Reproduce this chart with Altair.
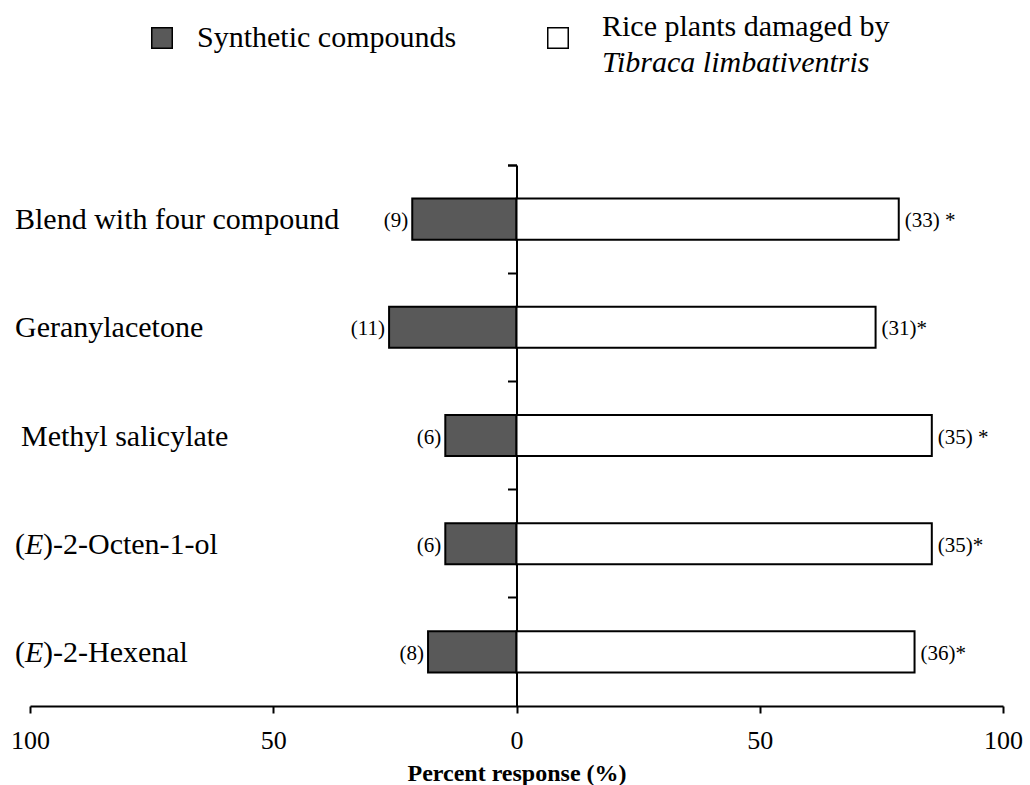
import altair as alt
import pandas as pd

# Olfactometer choices: synthetic compound vs. rice plants damaged by T. limbativentris
compounds = [
    "Blend with four compound",
    "Geranylacetone",
    "Methyl salicylate",
    "(E)-2-Octen-1-ol",
    "(E)-2-Hexenal",
]
synthetic_n = [9, 11, 6, 6, 8]
damaged_n = [33, 31, 35, 35, 36]
damaged_marks = ["(33) *", "(31)*", "(35) *", "(35)*", "(36)*"]

axis_values = [-100, -50, 0, 50, 100]
groups = ["Synthetic compounds", "Rice plants damaged by"]
colors = ["#595959", "white"]

SERIF = "Liberation Serif"

rows = []
for name, s, d, lab in zip(compounds, synthetic_n, damaged_n, damaged_marks):
    total = s + d
    rows.append({"compound": name, "group": groups[0],
                 "lo": -100.0 * s / total, "hi": 0.0, "label": f"({s})"})
    rows.append({"compound": name, "group": groups[1],
                 "lo": 0.0, "hi": 100.0 * d / total, "label": lab})
df = pd.DataFrame(rows)

# Category axis sits on the zero line, with ticks at the band boundaries
y_enc = alt.Y(
    "compound:N",
    sort=compounds,
    scale=alt.Scale(paddingInner=0, paddingOuter=0),
    axis=alt.Axis(
        title=None, labels=False, grid=False, offset=-486.5,
        ticks=True, bandPosition=0, tickExtra=True,
        tickSize=9, tickWidth=2, tickColor="black",
        domainColor="black", domainWidth=2,
    ),
)
y_plain = alt.Y("compound:N", sort=compounds)

x_scale = alt.Scale(domain=[-100, 100], nice=False)

bars = alt.Chart(df).mark_bar(
    stroke="black", strokeWidth=2, height={"band": 0.38}
).encode(
    x=alt.X(
        "lo:Q", scale=x_scale,
        axis=alt.Axis(
            values=axis_values, labelExpr="abs(datum.value)", grid=False,
            tickSize=7, tickWidth=2, tickColor="black",
            domainColor="black", domainWidth=2,
            labelFont=SERIF, labelFontSize=26, labelColor="black",
            labelPadding=14, labelFlush=False,
            title="Percent response (%)", titleFont=SERIF, titleFontSize=24,
            titleFontWeight="bold", titleColor="black", titlePadding=8,
        ),
    ),
    x2="hi:Q",
    y=y_enc,
    fill=alt.Fill("group:N", scale=alt.Scale(domain=groups, range=colors), legend=None),
)

left_counts = alt.Chart(df).transform_filter(
    alt.datum.group == groups[0]
).mark_text(font=SERIF, fontSize=21, align="right", baseline="middle", dx=-4, dy=2,
            color="black").encode(
    x=alt.X("lo:Q", scale=x_scale), y=y_plain, text="label:N"
)

right_counts = alt.Chart(df).transform_filter(
    alt.datum.group == groups[1]
).mark_text(font=SERIF, fontSize=21, align="left", baseline="middle", dx=6, dy=2,
            color="black").encode(
    x=alt.X("hi:Q", scale=x_scale), y=y_plain, text="label:N"
)

# Category names drawn as text so the (E) prefix can be italic
names = pd.DataFrame({
    "compound": compounds,
    "plain": ["Blend with four compound", "Geranylacetone", "Methyl salicylate", "", ""],
    "tail": ["", "", "", ")-2-Octen-1-ol", ")-2-Hexenal"],
})


def name_layer(expr, x_px, keep, style="normal"):
    return alt.Chart(names).transform_filter(keep).transform_calculate(
        t=expr
    ).mark_text(
        font=SERIF, fontSize=30, fontStyle=style, align="left", baseline="middle",
        color="black", dy=1,
    ).encode(x=alt.value(x_px), y=y_plain, text="t:N")


is_e = alt.datum.tail != ""
plain_names = name_layer("datum.plain", -15,
                         (alt.datum.plain != "") & (alt.datum.compound != "Methyl salicylate"))
methyl_name = name_layer("datum.plain", -9, alt.datum.compound == "Methyl salicylate")
open_paren = name_layer("'('", -15, is_e)
italic_e = name_layer("'E'", -5, is_e, style="italic")
tail_names = name_layer("datum.tail", 13, is_e)

# Legend drawn by hand: two-line entry with italic species name
key_df = pd.DataFrame({"k": [0]})


def legend_key(x_px, color):
    return alt.Chart(key_df).mark_point(
        shape="square", filled=True, size=420, stroke="black", strokeWidth=1.5, opacity=1
    ).encode(x=alt.value(x_px), y=alt.value(-127), fill=alt.value(color))


def legend_text(txt, x_px, y_px, style="normal"):
    return alt.Chart(pd.DataFrame({"t": [txt]})).mark_text(
        font=SERIF, fontSize=30, fontStyle=style, align="left", baseline="alphabetic",
        color="black",
    ).encode(x=alt.value(x_px), y=alt.value(y_px), text="t:N")


key1 = legend_key(132, colors[0])
key2 = legend_key(528, colors[1])
leg1 = legend_text("Synthetic compounds", 167, -118)
leg2 = legend_text("Rice plants damaged by", 572, -129)
leg3 = legend_text("Tibraca limbativentris", 572, -93, style="italic")

chart = alt.layer(
    bars, left_counts, right_counts,
    plain_names, methyl_name, open_paren, italic_e, tail_names,
    key1, key2, leg1, leg2, leg3,
).properties(
    width=973, height=541,
    autosize=alt.AutoSizeParams(type="none"),
    padding={"left": 30, "top": 165, "right": 27, "bottom": 79},
    background="white",
).configure_view(strokeWidth=0)

chart.save("out.html", embed_options={"renderer": "svg", "actions": False})
